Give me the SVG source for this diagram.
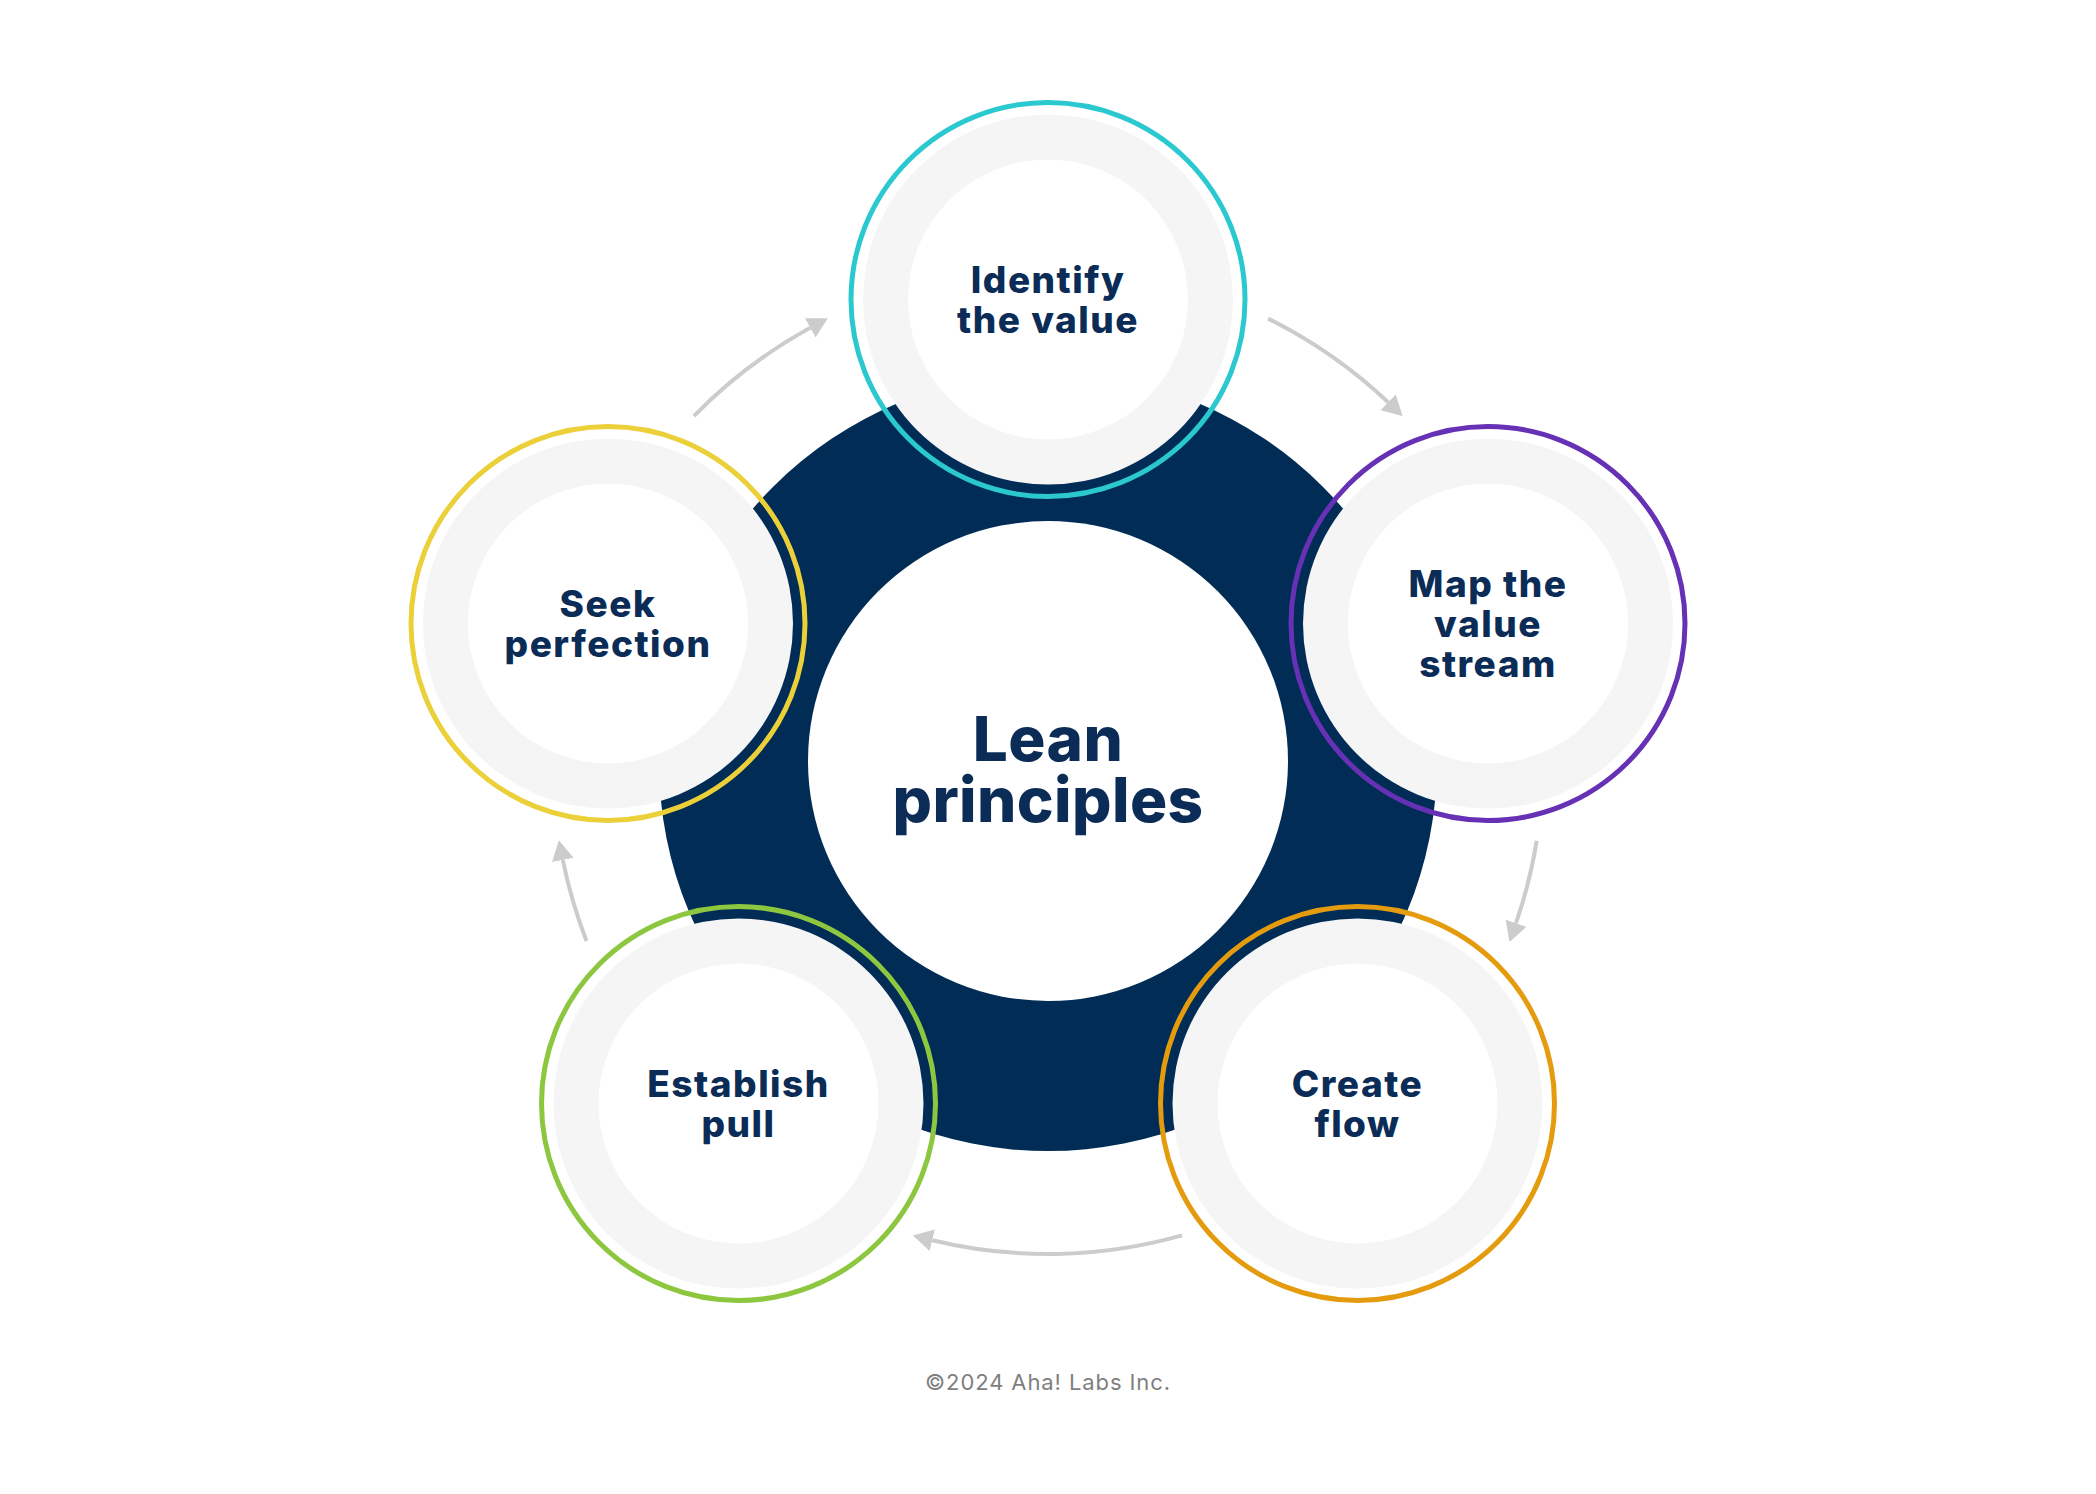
<svg xmlns="http://www.w3.org/2000/svg" width="2096" height="1494" viewBox="0 0 2096 1494">
<defs>
<style>
.bg{fill:#ffffff}
.hub{fill:#012c55}
.hubin{fill:#ffffff}
.ring{fill:none;stroke-width:5}
.disk{fill:#f5f5f5}
.inner{fill:#ffffff}
.lbl{font-family:Inter,"Liberation Sans",sans-serif;font-weight:800;font-size:37px;letter-spacing:1.5px;fill:#0a2c56;text-anchor:middle}
.title{font-family:Inter,"Liberation Sans",sans-serif;font-weight:800;font-size:62px;letter-spacing:0.4px;fill:#0a2c56;text-anchor:middle}
.conn{fill:none;stroke:#cccccc;stroke-width:4}
.copy{font-family:Inter,"Liberation Sans",sans-serif;font-size:22px;letter-spacing:0.9px;fill:#7f7f7f;text-anchor:middle}
</style>
<marker id="ah" markerUnits="userSpaceOnUse" markerWidth="22" markerHeight="24" refX="0" refY="11" orient="auto" viewBox="0 0 22 24">
<path d="M0,0 L20,11 L0,22 z" fill="#cccccc"/>
</marker>
</defs>
<rect class="bg" x="0" y="0" width="2096" height="1494"/>
<g id="hub">
<circle class="hub" cx="1048" cy="762" r="389"/>
<circle class="hubin" cx="1048" cy="761" r="240"/>
<text class="title" x="1048" y="761"><tspan x="1048" y="761">Lean</tspan><tspan x="1048" y="822">principles</tspan></text>
</g>
<g id="connectors">
<path class="conn" d="M693.9,416.1 A495,495 0 0 1 810.3,327.8" marker-end="url(#ah)"/>
<path class="conn" d="M1268.1,318.6 A495,495 0 0 1 1388.1,402.3" marker-end="url(#ah)"/>
<path class="conn" d="M1536.7,840.9 A495,495 0 0 1 1516.0,923.2" marker-end="url(#ah)"/>
<path class="conn" d="M1182.0,1235.4 A492,492 0 0 1 932.3,1240.2" marker-end="url(#ah)"/>
<path class="conn" d="M586.5,941.0 A495,495 0 0 1 562.8,859.9" marker-end="url(#ah)"/>
</g>
<g id="node-identify">
<circle class="ring" cx="1048" cy="299.5" r="197" stroke="#2bc9cf"/>
<circle class="disk" cx="1048" cy="299.5" r="185"/>
<circle class="inner" cx="1048" cy="299.5" r="140"/>
<text class="lbl"><tspan x="1048" y="293">Identify</tspan><tspan x="1048" y="333">the value</tspan></text>
</g>
<g id="node-map">
<circle class="ring" cx="1488" cy="623.5" r="197" stroke="#6631b4"/>
<circle class="disk" cx="1488" cy="623.5" r="185"/>
<circle class="inner" cx="1488" cy="623.5" r="140"/>
<text class="lbl"><tspan x="1488" y="597">Map the</tspan><tspan x="1488" y="637">value</tspan><tspan x="1488" y="677">stream</tspan></text>
</g>
<g id="node-create">
<circle class="ring" cx="1357.5" cy="1103.5" r="197" stroke="#e49c0e"/>
<circle class="disk" cx="1357.5" cy="1103.5" r="185"/>
<circle class="inner" cx="1357.5" cy="1103.5" r="140"/>
<text class="lbl"><tspan x="1357.5" y="1097">Create</tspan><tspan x="1357.5" y="1137">flow</tspan></text>
</g>
<g id="node-establish">
<circle class="ring" cx="738.5" cy="1103.5" r="197" stroke="#8dc63f"/>
<circle class="disk" cx="738.5" cy="1103.5" r="185"/>
<circle class="inner" cx="738.5" cy="1103.5" r="140"/>
<text class="lbl"><tspan x="738.5" y="1097">Establish</tspan><tspan x="738.5" y="1137">pull</tspan></text>
</g>
<g id="node-seek">
<circle class="ring" cx="608" cy="623.5" r="197" stroke="#ebd03a"/>
<circle class="disk" cx="608" cy="623.5" r="185"/>
<circle class="inner" cx="608" cy="623.5" r="140"/>
<text class="lbl"><tspan x="608" y="617">Seek</tspan><tspan x="608" y="657">perfection</tspan></text>
</g>
<text class="copy" x="1048" y="1390">©2024 Aha! Labs Inc.</text>
</svg>
